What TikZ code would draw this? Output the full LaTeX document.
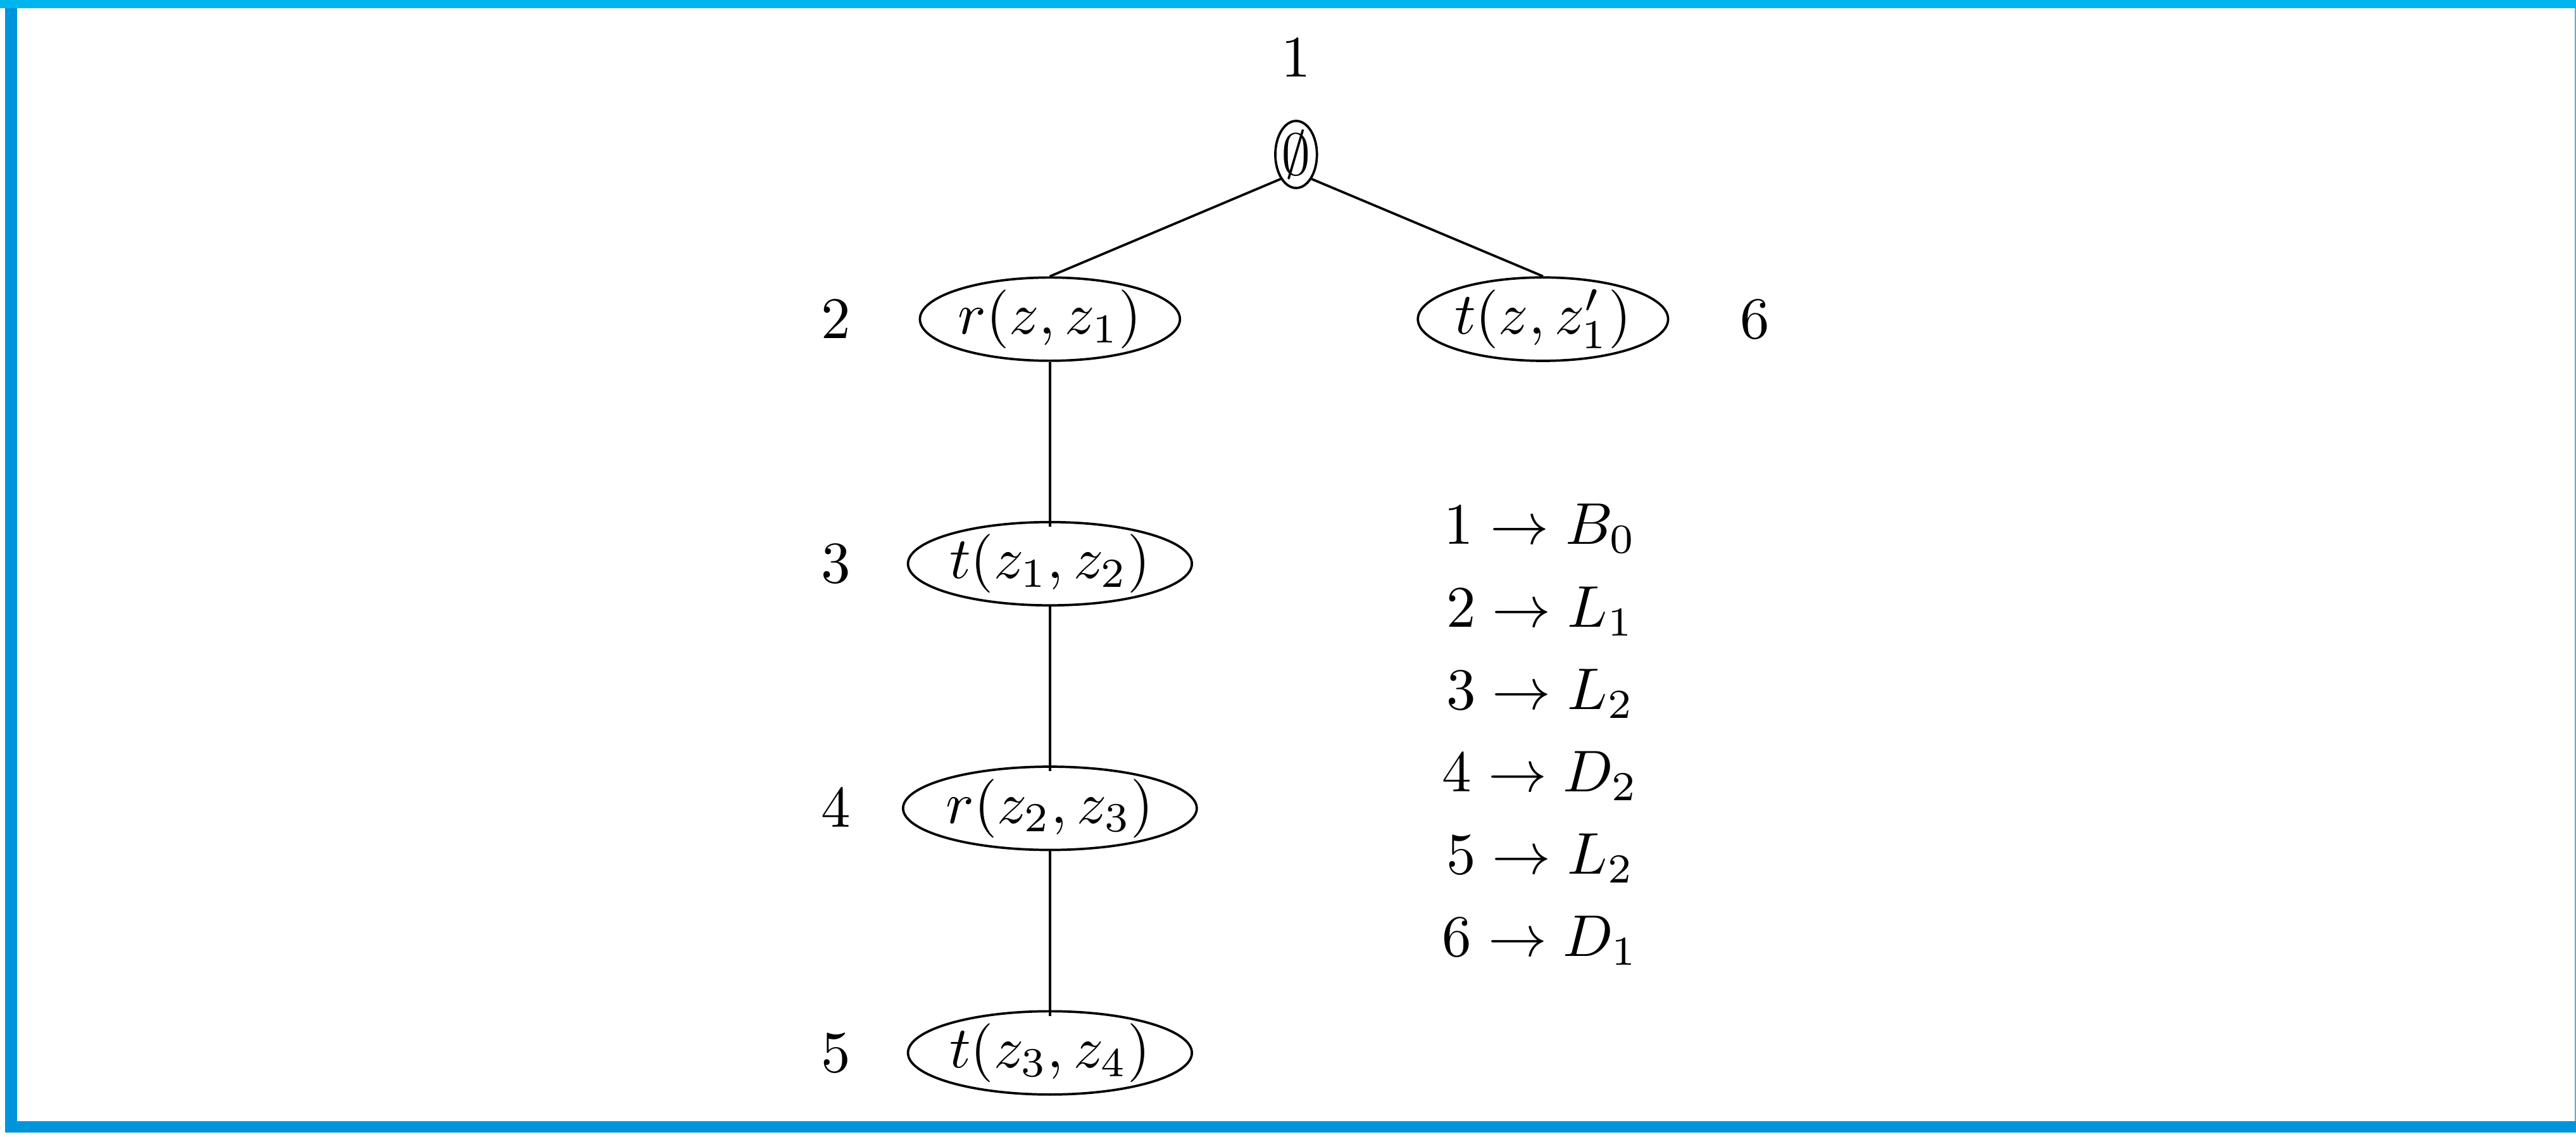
\documentclass[tikz,border=0pt]{standalone}
\usepackage{amsmath,amssymb}
\usepackage{tikz}
\usetikzlibrary{shapes.geometric}
\definecolor{frametop}{RGB}{0,180,238}
\definecolor{frameside}{RGB}{0,148,218}

\begin{document}
\begin{tikzpicture}[node distance=1.46cm, auto,
  term/.style={draw, ellipse, inner sep=0pt},
  lvl/.style={inner sep=0pt}]
  % Frame
  \useasboundingbox (0,0) rectangle (15.381,-6.787);
  \fill[frametop] (0,0) rectangle (15.381,-0.049);
  \fill[frameside] (0.030,-0.049) rectangle (0.102,-6.761);
  \fill[frameside] (0.030,-6.693) rectangle (15.381,-6.761);
  \fill[frameside!70] (15.373,-0.049) rectangle (15.381,-6.693);

  % Nodes
  \node[term] (root) at (7.739,-0.922) {$\emptyset$};
  \node[term] (r1) at (6.269,-1.905) {$r(z,z_1)$};
  \node[term, right of=r1, xshift=1.484cm] (t1) {$t(z,z'_1)$};
  \node[term, below of=r1] (t2) {$t(z_1,z_2)$};
  \node[term, below of=t2] (r2) {$r(z_2,z_3)$};
  \node[term, below of=r2] (t3) {$t(z_3,z_4)$};

  % Labels
  \node[lvl, above of=root, node distance=0.578cm] (l1) {$1$};
  \node[lvl, left of=r1, node distance=1.277cm] (l2) {$2$};
  \node[lvl, left of=t2, node distance=1.277cm] (l3) {$3$};
  \node[lvl, left of=r2, node distance=1.277cm] (l4) {$4$};
  \node[lvl, left of=t3, node distance=1.277cm] (l5) {$5$};
  \node[lvl, right of=t1, node distance=1.266cm] (l6) {$6$};

  % Legend
  \node[align=center] (legend) at (9.197,-4.386) {%
    $1 \to B_0$\\[2pt]
    $2 \to L_1$\\[2pt]
    $3 \to L_2$\\[2pt]
    $4 \to D_2$\\[2pt]
    $5 \to L_2$\\[2pt]
    $6 \to D_1$};

  % Edges
  \draw (root.south west) -- (r1.north);
  \draw (root.south east) -- (t1.north);
  \draw (r1.south) -- ([yshift=-1pt]t2.north);
  \draw (t2.south) -- ([yshift=-1pt]r2.north);
  \draw (r2.south) -- ([yshift=-1pt]t3.north);
\end{tikzpicture}
\end{document}
